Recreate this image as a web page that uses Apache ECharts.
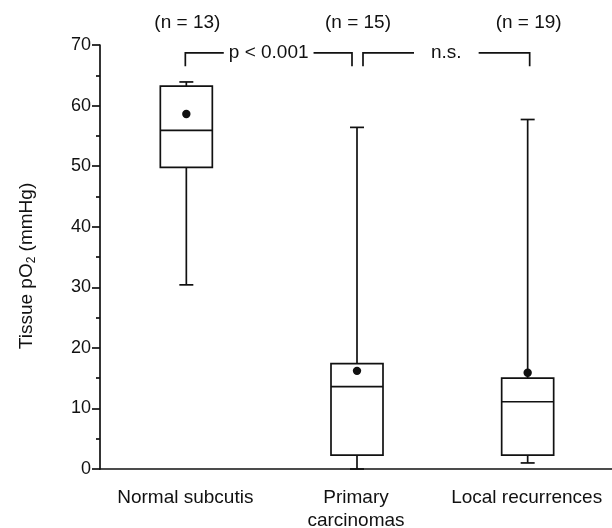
<!DOCTYPE html>
<html>
<head>
<meta charset="utf-8">
<script src="https://cdn.jsdelivr.net/npm/echarts@6/dist/echarts.min.js"></script>
<style>
  html, body { margin: 0; padding: 0; background: #fff; }
  #chart { width: 612px; height: 528px; }
</style>
</head>
<body>
<div id="chart"></div>
<script>
// groups and sample sizes
var categories = ['Normal subcutis', 'Primary\ncarcinomas', 'Local recurrences'];
var counts = [13, 15, 19];

// box plot values, tissue pO2 in mmHg
var whiskerLow = [30.4, 0, 1.0];
var q1 = [49.8, 2.3, 2.3];
var median = [55.9, 13.6, 11.1];
var q3 = [63.2, 17.4, 15.0];
var whiskerHigh = [63.9, 56.4, 57.7];
var means = [58.6, 16.2, 15.9];

// y axis
var yMin = 0, yMax = 70, yStep = 10;

// significance brackets: [from group, to group, label]
var brackets = [[0, 1, 'p < 0.001'], [1, 2, 'n.s.']];
var bracketTop = 68.7, bracketBottom = 66.5;

var FONT = '"Liberation Sans", Arial, Helvetica, sans-serif';
var INK = '#111';

var ctx = document.createElement('canvas').getContext('2d');
ctx.font = '19px ' + FONT;
function textWidth(s) { return ctx.measureText(s).width; }

var boxRows = categories.map(function (c, i) {
  return [i, whiskerLow[i], q1[i], median[i], q3[i], whiskerHigh[i], means[i]];
});

function renderBox(params, api) {
  var i = api.value(0);
  var x = api.coord([i, 0])[0] + 1;
  var yLo = api.coord([i, api.value(1)])[1];
  var yQ1 = api.coord([i, api.value(2)])[1];
  var yMed = api.coord([i, api.value(3)])[1];
  var yQ3 = api.coord([i, api.value(4)])[1];
  var yHi = api.coord([i, api.value(5)])[1];
  var yMean = api.coord([i, api.value(6)])[1];
  var hw = 26, cw = 7;
  var ln = { stroke: INK, lineWidth: 1.7 };
  return {
    type: 'group',
    children: [
      { type: 'line', shape: { x1: x, y1: yQ1, x2: x, y2: yLo }, style: ln },
      { type: 'line', shape: { x1: x - cw, y1: yLo, x2: x + cw, y2: yLo }, style: ln },
      { type: 'line', shape: { x1: x, y1: yQ3, x2: x, y2: yHi }, style: ln },
      { type: 'line', shape: { x1: x - cw, y1: yHi, x2: x + cw, y2: yHi }, style: ln },
      { type: 'rect', shape: { x: x - hw, y: yQ3, width: hw * 2, height: yQ1 - yQ3 },
        style: { fill: '#fff', stroke: INK, lineWidth: 1.7 } },
      { type: 'line', shape: { x1: x - hw, y1: yMed, x2: x + hw, y2: yMed }, style: ln },
      { type: 'circle', shape: { cx: x, cy: yMean, r: 4.2 }, style: { fill: INK } }
    ]
  };
}

function renderCount(params, api) {
  var i = api.value(0);
  var x = api.coord([i, 0])[0] + 2;
  return {
    type: 'text',
    style: { x: x, y: 23, text: '(n = ' + api.value(1) + ')', font: '19px ' + FONT,
      fill: INK, align: 'center', verticalAlign: 'middle' }
  };
}

var bracketOffsets = [[0, -4], [7, 3]];
var bracketGaps = [5, 17];
function renderBracket(params, api) {
  var k = params.dataIndex;
  var xa = api.coord([api.value(0), 0])[0] + bracketOffsets[k][0];
  var xb = api.coord([api.value(1), 0])[0] + bracketOffsets[k][1];
  var yt = api.coord([0, bracketTop])[1];
  var yb = api.coord([0, bracketBottom])[1];
  var label = brackets[k][2];
  var mid = (xa + xb) / 2;
  var half = textWidth(label) / 2 + bracketGaps[k];
  var ln = { stroke: INK, lineWidth: 1.7, fill: 'none' };
  return {
    type: 'group',
    children: [
      { type: 'polyline', shape: { points: [[xa, yb], [xa, yt], [mid - half, yt]] }, style: ln },
      { type: 'polyline', shape: { points: [[mid + half, yt], [xb, yt], [xb, yb]] }, style: ln },
      { type: 'text', style: { x: mid, y: yt, text: label, font: '19px ' + FONT, fill: INK,
        align: 'center', verticalAlign: 'middle' } }
    ]
  };
}

var chart = echarts.init(document.getElementById('chart'));
chart.setOption({
  backgroundColor: '#fff',
  animation: false,
  grid: { left: 100, right: 0, top: 45, bottom: 59, outerBoundsMode: 'none' },
  xAxis: {
    type: 'category',
    data: categories,
    axisLine: { lineStyle: { color: INK, width: 1.7 } },
    axisTick: { length: 7, lineStyle: { color: INK, width: 1.7 } },
    axisLabel: { interval: 0, color: INK, fontSize: 19, fontFamily: FONT, margin: 17, lineHeight: 23 },
    splitLine: { show: false }
  },
  yAxis: {
    type: 'value',
    min: yMin, max: yMax, interval: yStep,
    name: '{a|Tissue pO}{s|2}{a| (mmHg)}',
    nameLocation: 'middle',
    nameGap: 62,
    nameTextStyle: {
      color: INK, fontFamily: FONT, fontSize: 19,
      padding: [0, 18, 0, 0],
      rich: {
        a: { fontSize: 19, fontFamily: FONT, color: INK },
        s: { fontSize: 12, fontFamily: FONT, color: INK, padding: [10, 0, 0, 0] }
      }
    },
    axisLine: { show: true, lineStyle: { color: INK, width: 1.7 } },
    axisTick: { show: true, length: 8, lineStyle: { color: INK, width: 1.7 } },
    minorTick: { show: true, splitNumber: 2, length: 4, lineStyle: { color: INK, width: 1.7 } },
    axisLabel: { color: INK, fontSize: 18, fontFamily: FONT, margin: 9 },
    splitLine: { show: false }
  },
  series: [
    {
      type: 'custom',
      silent: true,
      renderItem: renderBox,
      encode: { x: 0, y: [1, 2, 3, 4, 5, 6] },
      data: boxRows,
      z: 3
    },
    {
      type: 'custom',
      silent: true,
      renderItem: renderCount,
      data: counts.map(function (n, i) { return [i, n]; }),
      encode: { x: 0 },
      z: 4
    },
    {
      type: 'custom',
      silent: true,
      renderItem: renderBracket,
      data: brackets.map(function (b) { return [b[0], b[1]]; }),
      encode: { x: [0, 1] },
      z: 4
    }
  ]
});
</script>
</body>
</html>
